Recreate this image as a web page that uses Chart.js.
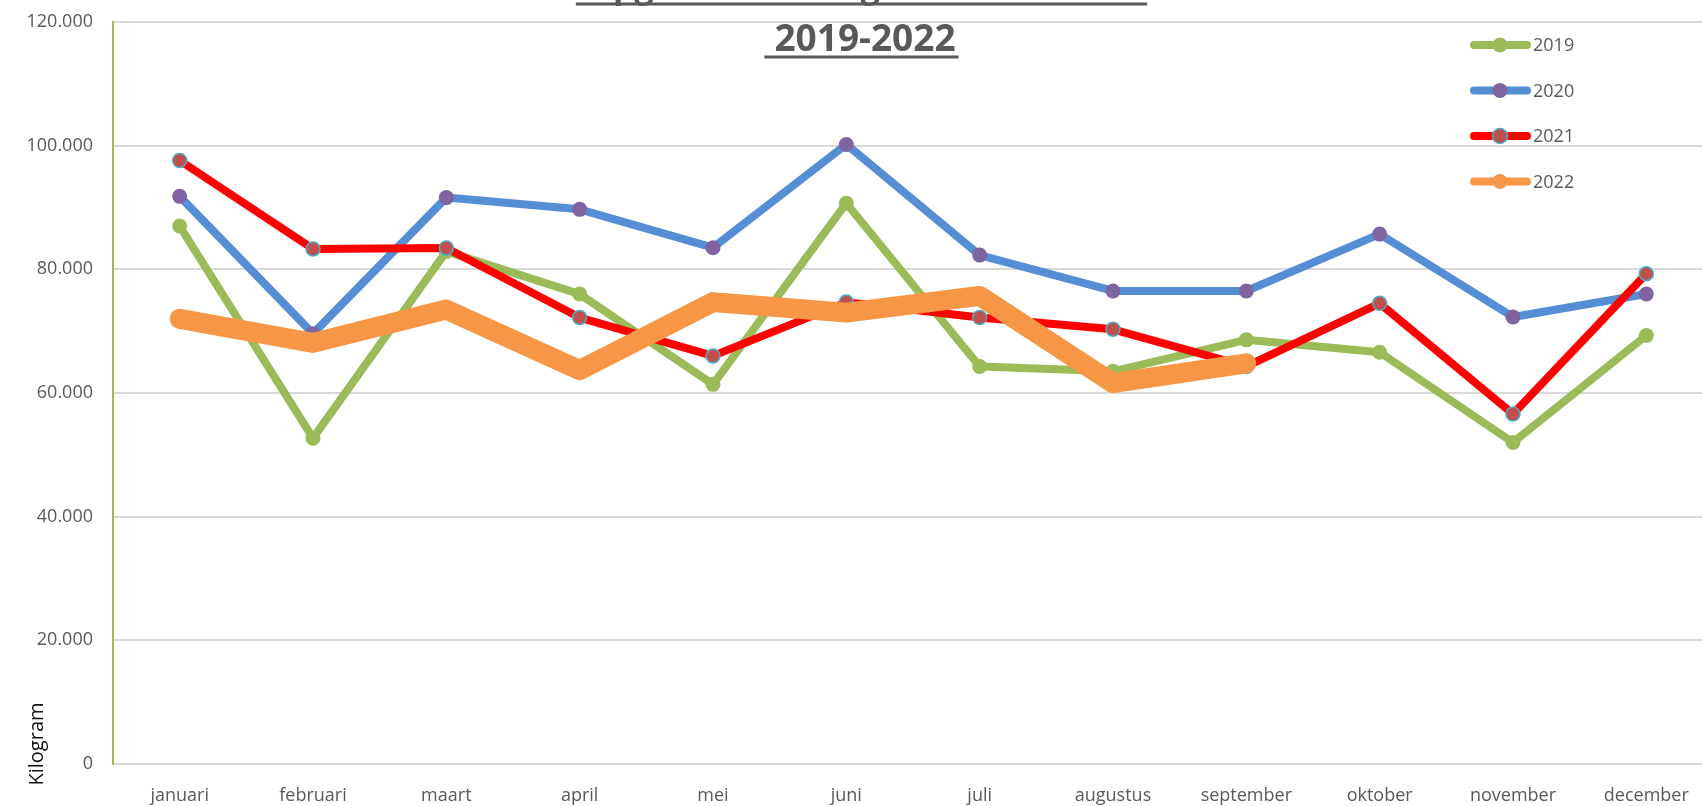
<!DOCTYPE html>
<html>
<head>
<meta charset="utf-8">
<script src="https://cdn.jsdelivr.net/npm/chart.js@4"></script>
<style>
  html, body { margin: 0; padding: 0; background: #fff; overflow: hidden; }
  /* the plot runs past the right edge of the window, like the cropped reference */
  #wrap { position: relative; width: 1730px; height: 806px; }
</style>
</head>
<body>
<div id="wrap"><canvas id="chart"></canvas></div>
<script>
// Categories and series (kilogram per month)
const months = ['januari', 'februari', 'maart', 'april', 'mei', 'juni', 'juli',
  'augustus', 'september', 'oktober', 'november', 'december'];

const kg2019 = [87000, 52700, 82900, 76000, 61400, 90700, 64300, 63500, 68600, 66600, 52000, 69300];
const kg2020 = [91800, 69600, 91600, 89700, 83500, 100200, 82300, 76500, 76500, 85700, 72300, 76000];
const kg2021 = [97600, 83300, 83450, 72200, 66000, 74700, 72200, 70300, 64300, 74500, 56600, 79300];
const kg2022 = [72000, 68100, 73500, 63700, 74700, 73000, 75700, 61600, 64800];

const yTicks = [0, 20000, 40000, 60000, 80000, 100000, 120000];

const titleLines = ['Opgehaalde kilogrammen textiel', '2019-2022'];
const axisTitle = 'Kilogram';

const FONT = '"Open Sans", "Liberation Sans", sans-serif';
const GREY = '#595959';

function formatKg(v) {
  // Dutch thousands separator
  if (v === 0) return '0';
  return String(v / 1000) + '.000';
}

/**
 * Title, axis title and legend drawn on top of the chart
 */
const decorPlugin = {
  id: 'decor',
  afterDraw(chart) {
    const ctx = chart.ctx;
    ctx.save();

    // Title (first line is mostly cut off at the top)
    ctx.fillStyle = GREY;
    ctx.strokeStyle = GREY;
    ctx.textAlign = 'center';
    ctx.textBaseline = 'alphabetic';
    const cx = 865;
    const baselines = [-2, 51];
    const sizes = [34, 37];
    titleLines.forEach((line, i) => {
      ctx.font = 'bold ' + sizes[i] + 'px ' + FONT;
      const w = ctx.measureText(line).width;
      ctx.fillText(line, cx, baselines[i]);
      ctx.lineWidth = 3;
      ctx.beginPath();
      ctx.moveTo(cx - w / 2 - 10, baselines[i] + 6);
      ctx.lineTo(cx + w / 2 + 3, baselines[i] + 6);
      ctx.stroke();
    });

    // Axis title at the bottom of the value axis
    ctx.save();
    ctx.translate(37, 744);
    ctx.rotate(-Math.PI / 2);
    ctx.font = '20px ' + FONT;
    ctx.fillStyle = '#111';
    ctx.textAlign = 'center';
    ctx.textBaseline = 'middle';
    ctx.fillText(axisTitle, 0, 0);
    ctx.restore();

    // Legend
    ctx.font = '18px ' + FONT;
    ctx.textAlign = 'left';
    ctx.textBaseline = 'middle';
    chart.data.datasets.forEach((ds, i) => {
      const y = 45 + i * 45.5;
      ctx.strokeStyle = ds.borderColor;
      ctx.lineWidth = 8;
      ctx.lineCap = 'round';
      ctx.beginPath();
      ctx.moveTo(1474, y);
      ctx.lineTo(1527, y);
      ctx.stroke();

      ctx.beginPath();
      ctx.arc(1500, y, 7.5, 0, Math.PI * 2);
      ctx.fillStyle = ds.pointBackgroundColor;
      ctx.fill();
      if (ds.pointBorderWidth > 0) {
        ctx.lineWidth = ds.pointBorderWidth;
        ctx.strokeStyle = ds.pointBorderColor;
        ctx.stroke();
      }

      ctx.fillStyle = GREY;
      ctx.fillText(ds.label, 1533, y + 1);
    });

    ctx.restore();
  }
};

function makeDataset(label, data, line, point, opts) {
  return Object.assign({
    label: label,
    data: data,
    borderColor: line,
    backgroundColor: line,
    borderWidth: 8,
    pointRadius: 7.5,
    pointHoverRadius: 7.5,
    pointBackgroundColor: point,
    pointBorderColor: point,
    pointBorderWidth: 0,
    borderCapStyle: 'round',
    borderJoinStyle: 'round',
    tension: 0,
    fill: false
  }, opts || {});
}

const datasets = [
  makeDataset('2019', kg2019, '#9BBB59', '#9BBB59', { order: 4 }),
  makeDataset('2020', kg2020, '#558ED5', '#8064A2', { order: 3 }),
  makeDataset('2021', kg2021, '#FF0000', '#C0504D', {
    order: 2, pointRadius: 7, pointHoverRadius: 7,
    pointBorderColor: '#4BACC6', pointBorderWidth: 1.5
  }),
  makeDataset('2022', kg2022, '#F79646', '#F79646', { order: 1, borderWidth: 20, pointRadius: 0 })
];

new Chart(document.getElementById('chart'), {
  type: 'line',
  data: { labels: months, datasets: datasets },
  options: {
    responsive: true,
    maintainAspectRatio: false,
    animation: false,
    events: [],
    layout: { padding: { left: 0, top: 22, right: 17, bottom: 0 } },
    plugins: {
      legend: { display: false },
      title: { display: false },
      tooltip: { enabled: false }
    },
    scales: {
      x: {
        offset: true,
        afterFit(scale) {
          scale.height = 42;
          scale.paddingLeft = 0;
          scale.paddingRight = 0;
        },
        grid: { display: false, drawTicks: false, offset: true },
        border: { display: true, color: '#D9D9D9', width: 2 },
        ticks: {
          autoSkip: false,
          maxRotation: 0,
          padding: 21,
          color: GREY,
          font: { family: FONT, size: 18 }
        }
      },
      y: {
        min: 0,
        max: 120000,
        afterFit(scale) {
          scale.width = 113;
          scale.paddingTop = 0;
          scale.paddingBottom = 0;
        },
        afterBuildTicks(scale) { scale.ticks = yTicks.map(v => ({ value: v })); },
        grid: { color: '#D9D9D9', lineWidth: 2, drawTicks: false },
        border: { display: true, color: '#9BBB59', width: 2 },
        ticks: {
          padding: 20,
          color: GREY,
          font: { family: FONT, size: 18 },
          callback: v => formatKg(v)
        }
      }
    }
  },
  plugins: [decorPlugin]
});
</script>
</body>
</html>
